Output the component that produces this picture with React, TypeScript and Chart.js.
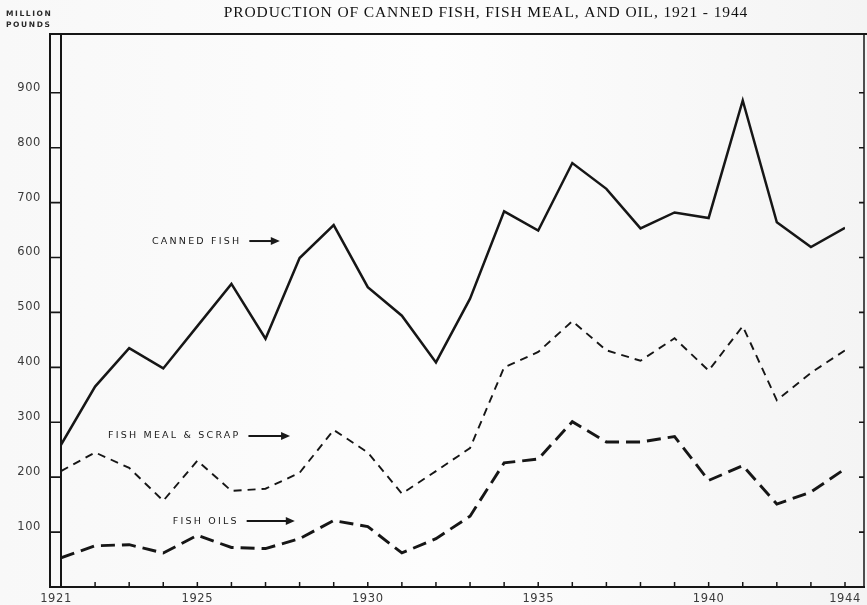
import React, { useEffect, useRef } from "react";
import { Chart, registerables } from "chart.js";

Chart.register(...registerables);

const years = [1921, 1922, 1923, 1924, 1925, 1926, 1927, 1928, 1929, 1930, 1931, 1932, 1933, 1934, 1935, 1936, 1937, 1938, 1939, 1940, 1941, 1942, 1943, 1944];
const cannedFish = [259, 365, 435, 398, 475, 552, 452, 599, 659, 546, 494, 409, 525, 684, 649, 772, 725, 653, 682, 672, 886, 664, 619, 654];
const fishMeal = [211, 245, 217, 157, 230, 175, 179, 208, 286, 245, 170, 211, 253, 400, 428, 484, 431, 412, 453, 394, 475, 340, 390, 431];
const fishOils = [53, 75, 77, 62, 94, 72, 70, 88, 121, 110, 62, 88, 129, 226, 233, 301, 264, 264, 274, 194, 221, 151, 173, 215];

const yTickValues = [100, 200, 300, 400, 500, 600, 700, 800, 900];
const yTickLabels = ["100", "200", "300", "400", "500", "600", "700", "800", "900"];
const xTickLabels = [1921, 1925, 1930, 1935, 1940, 1944];

const title = "PRODUCTION OF CANNED FISH, FISH MEAL, AND OIL, 1921 - 1944";
const unitLines = ["MILLION", "POUNDS"];
const annotations = [
  { text: "CANNED FISH", year: 1923.67, value: 630, arrowTo: 1927.42 },
  { text: "FISH MEAL & SCRAP", year: 1922.38, value: 275, arrowTo: 1927.72 },
  { text: "FISH OILS", year: 1924.28, value: 120, arrowTo: 1927.86 },
];

const ink = "#161616";

const decorPlugin = {
  id: "decor",
  beforeDraw(chart: any) {
    const ctx = chart.ctx;
    ctx.save();
    const g = ctx.createLinearGradient(0, 0, chart.width, 0);
    g.addColorStop(0, "#f8f8f8");
    g.addColorStop(0.5, "#fdfdfd");
    g.addColorStop(1, "#f4f4f4");
    ctx.fillStyle = g;
    ctx.fillRect(0, 0, chart.width, chart.height);
    ctx.restore();
  },
  afterDraw(chart: any) {
    const ctx = chart.ctx;
    const xs = chart.scales.x;
    const ys = chart.scales.y;
    const left = xs.getPixelForValue(1921);
    const right = xs.getPixelForValue(1944);
    const y0 = ys.getPixelForValue(0);
    const top = chart.chartArea.top;
    const outerL = left - 11;
    const outerR = right + 19;
    ctx.save();
    ctx.strokeStyle = ink;
    ctx.lineCap = "butt";

    // frame
    ctx.lineWidth = 2;
    ctx.beginPath();
    ctx.moveTo(outerL, top);
    ctx.lineTo(chart.width, top);
    ctx.stroke();
    ctx.beginPath();
    ctx.moveTo(outerL, top - 1);
    ctx.lineTo(outerL, y0 + 1);
    ctx.moveTo(left, top - 1);
    ctx.lineTo(left, y0 + 1);
    ctx.stroke();
    ctx.lineWidth = 1.5;
    ctx.beginPath();
    ctx.moveTo(outerR, top);
    ctx.lineTo(outerR, y0);
    ctx.stroke();
    ctx.lineWidth = 2.2;
    ctx.beginPath();
    ctx.moveTo(outerL - 1, y0);
    ctx.lineTo(outerR + 1, y0);
    ctx.stroke();

    // y ticks (ladder) and right ticks
    ctx.lineWidth = 1.6;
    yTickValues.forEach((v) => {
      const py = ys.getPixelForValue(v);
      ctx.beginPath();
      ctx.moveTo(outerL, py);
      ctx.lineTo(left, py);
      ctx.moveTo(outerR - 5, py);
      ctx.lineTo(outerR, py);
      ctx.stroke();
    });

    // x ticks
    ctx.lineWidth = 1.5;
    years.forEach((yr) => {
      const px = xs.getPixelForValue(yr);
      ctx.beginPath();
      ctx.moveTo(px, y0);
      ctx.lineTo(px, y0 - 5);
      ctx.stroke();
    });

    // y labels
    ctx.fillStyle = "#3a3a3a";
    ctx.font = "11.5px 'DejaVu Sans'";
    (ctx as any).letterSpacing = "0.6px";
    ctx.textAlign = "right";
    ctx.textBaseline = "middle";
    yTickValues.forEach((v, i) => {
      ctx.fillText(yTickLabels[i], outerL - 9, ys.getPixelForValue(v) - 5);
    });

    // x labels
    ctx.textAlign = "center";
    xTickLabels.forEach((yr) => {
      const dx = yr === 1921 ? -5 : 0;
      ctx.fillText(String(yr), xs.getPixelForValue(yr) + dx, y0 + 12);
    });

    // unit label
    ctx.textAlign = "left";
    ctx.font = "bold 7.5px 'DejaVu Sans'";
    (ctx as any).letterSpacing = "1.6px";
    ctx.fillStyle = "#2a2a2a";
    ctx.fillText(unitLines[0], 6, 14);
    ctx.fillText(unitLines[1], 6, 25);

    // title
    ctx.font = "15.5px 'Liberation Serif'";
    (ctx as any).letterSpacing = "0.9px";
    ctx.textAlign = "center";
    ctx.fillStyle = "#111";
    ctx.fillText(title, 486, 13);

    // annotations
    ctx.font = "9.5px 'DejaVu Sans'";
    (ctx as any).letterSpacing = "2.2px";
    ctx.textAlign = "left";
    annotations.forEach((a) => {
      const tx = xs.getPixelForValue(a.year);
      const ty = ys.getPixelForValue(a.value);
      ctx.fillStyle = "#1a1a1a";
      ctx.fillText(a.text, tx, ty);
      const w = ctx.measureText(a.text).width;
      const ax0 = tx + w + 8;
      const ax1 = xs.getPixelForValue(a.arrowTo);
      ctx.lineWidth = 2;
      ctx.beginPath();
      ctx.moveTo(ax0, ty);
      ctx.lineTo(ax1 - 8, ty);
      ctx.stroke();
      ctx.beginPath();
      ctx.moveTo(ax1, ty);
      ctx.lineTo(ax1 - 9, ty - 4);
      ctx.lineTo(ax1 - 9, ty + 4);
      ctx.closePath();
      ctx.fill();
    });
    ctx.restore();
  },
};

export default function App() {
  const ref = useRef<HTMLCanvasElement | null>(null);
  useEffect(() => {
    if (!ref.current) return;
    const mk = (vals: number[]) => years.map((yr, i) => ({ x: yr, y: vals[i] }));
    const chart = new Chart(ref.current, {
      type: "line",
      data: {
        datasets: [
          { label: "Canned fish", data: mk(cannedFish), borderColor: ink, borderWidth: 2.5, pointRadius: 0, tension: 0, fill: false },
          { label: "Fish meal & scrap", data: mk(fishMeal), borderColor: ink, borderWidth: 1.9, borderDash: [8, 6], pointRadius: 0, tension: 0, fill: false },
          { label: "Fish oils", data: mk(fishOils), borderColor: ink, borderWidth: 2.9, borderDash: [14, 7], pointRadius: 0, tension: 0, fill: false },
        ],
      },
      options: {
        responsive: false,
        animation: false,
        layout: { padding: { left: 61, right: 22, top: 34, bottom: 18 } },
        plugins: { legend: { display: false }, tooltip: { enabled: false }, title: { display: false } },
        scales: {
          x: { type: "linear", min: 1921, max: 1944, display: false },
          y: { type: "linear", min: 0, max: 1007, display: false },
        },
      },
      plugins: [decorPlugin],
    });
    return () => chart.destroy();
  }, []);
  return (
    <div style={{ position: "fixed", left: 0, top: 0, width: 867, height: 605 }}>
      <canvas ref={ref} width={867} height={605} style={{ width: 867, height: 605, display: "block" }} />
    </div>
  );
}
